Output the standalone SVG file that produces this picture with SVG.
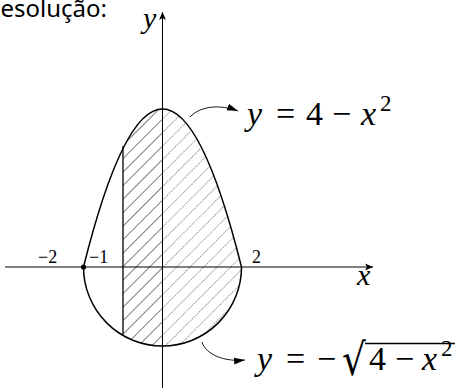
<svg xmlns="http://www.w3.org/2000/svg" width="455" height="390" viewBox="0 0 455 390">
<style>
.ax{stroke:#000;stroke-width:1;fill:none}
.cv{stroke:#000;stroke-width:1.5;fill:none}
.ann{stroke:#000;stroke-width:0.9;fill:none}
.ser{font-family:"Liberation Serif","Times New Roman",Times,"DejaVu Serif","Noto Serif",FreeSerif,serif}
</style>
<defs>
<marker id="axh" markerWidth="10" markerHeight="8" refX="8" refY="4" orient="auto" markerUnits="userSpaceOnUse">
<path d="M0,0.5 L8,4 L0,7.5 L2,4 Z" fill="#000"/>
</marker>
<marker id="anh" markerWidth="12" markerHeight="8" refX="11" refY="4" orient="auto" markerUnits="userSpaceOnUse">
<path d="M0,0.5 L11,4 L0,7.5 Z" fill="#000"/>
</marker>
<pattern id="solid" patternUnits="userSpaceOnUse" width="9.55" height="20" patternTransform="translate(162.5,267) rotate(45)">
<line x1="0" y1="0" x2="0" y2="20" stroke="#000" stroke-width="1"/>
</pattern>
<pattern id="dot" patternUnits="userSpaceOnUse" width="9.55" height="20" patternTransform="translate(162.5,267) rotate(45)">
<line x1="0" y1="0" x2="0" y2="20" stroke="#000" stroke-width="1" stroke-dasharray="1.2,1.3"/>
</pattern>
<clipPath id="region">
<path d="M83.5,267 Q162.5,-49 241.5,267 A79,79 0 0 1 83.5,267 Z"/>
</clipPath>
</defs>

<text x="107" y="17" text-anchor="end" font-family="Noto Sans, DejaVu Sans, sans-serif" font-size="24" fill="#000">Resolução:</text>

<g id="hatching" clip-path="url(#region)">
<rect x="123" y="100" width="39.5" height="260" fill="url(#solid)"/>
<rect x="162.5" y="100" width="80" height="260" fill="url(#dot)"/>
</g>

<g id="axes">
<line class="ax" x1="5" y1="267" x2="373" y2="267" marker-end="url(#axh)"/>
<line class="ax" x1="162.5" y1="388" x2="162.5" y2="12" marker-end="url(#axh)"/>
<g class="ser" font-style="italic" font-size="30" fill="#000">
<text x="143" y="28">y</text>
<text x="357" y="285">x</text>
</g>
</g>

<g id="curves">
<path id="parabola" class="cv" d="M83.5,267 Q162.5,-49 241.5,267"/>
<path id="semicircle" class="cv" d="M83.5,267 A79,79 0 0 0 241.5,267"/>
<line id="xminus1" x1="123" y1="146" x2="123" y2="334" stroke="#000" stroke-width="1.3"/>
<circle id="pt" cx="83.5" cy="267" r="2.6" fill="#000"/>
</g>

<g id="ticks" class="ser" font-size="18" fill="#000">
<text x="38" y="263">−2</text>
<text x="89" y="263">−1</text>
<text x="252" y="263">2</text>
</g>

<g id="connectors">
<path class="ann" d="M190,117 C200,106 220,104 238,111" marker-end="url(#anh)"/>
<path class="ann" d="M202,342 C206,355 225,362 245,360" marker-end="url(#anh)"/>
</g>

<g id="label-parabola" class="ser" font-size="34" fill="#000">
<text x="247" y="125" font-style="italic">y</text>
<text x="276" y="125">=</text>
<text x="306" y="125">4</text>
<text x="332" y="125">−</text>
<text x="361" y="125" font-style="italic">x</text>
<text x="380" y="111" font-size="23">2</text>
</g>

<g id="label-circle" class="ser" font-size="34" fill="#000">
<text x="257" y="370" font-style="italic">y</text>
<text x="286" y="370">=</text>
<text x="317" y="370">−</text>
<text transform="translate(342,375) scale(0.85,1)" font-family="DejaVu Sans, sans-serif" font-size="44">√</text>
<line x1="365" y1="343.5" x2="455" y2="343.5" stroke="#000" stroke-width="1.3"/>
<text x="369" y="370">4</text>
<text x="395" y="370">−</text>
<text x="422" y="370" font-style="italic">x</text>
<text x="441" y="356" font-size="23">2</text>
</g>
</svg>
